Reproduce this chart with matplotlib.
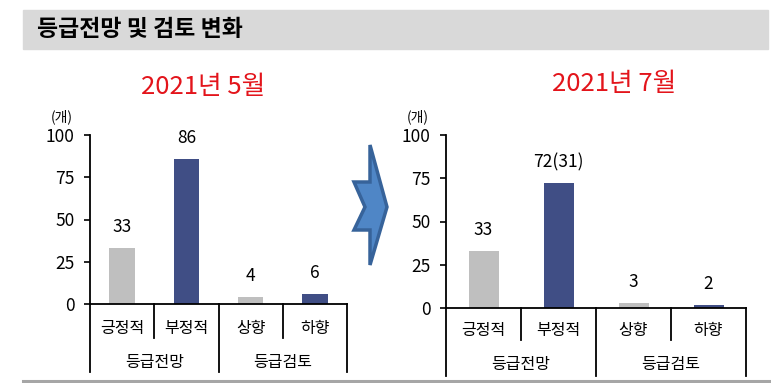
import matplotlib.pyplot as plt
import matplotlib.transforms as mtransforms
from matplotlib.patches import Rectangle, Polygon
from matplotlib.lines import Line2D

plt.rcParams['font.family'] = ['Noto Sans CJK KR', 'DejaVu Sans']

W, H = 771, 383

title = '등급전망 및 검토 변화'
periods = ['2021년 5월', '2021년 7월']
categories = ['긍정적', '부정적', '상향', '하향']
groups = ['등급전망', '등급검토']
values_may = [33, 86, 4, 6]
values_jul = [33, 72, 3, 2]
labels_may = ['33', '86', '4', '6']
labels_jul = ['33', '72(31)', '3', '2']
bar_colors = ['#BFBFBF', '#404E85', '#BFBFBF', '#404E85']
yticks = [0, 25, 50, 75, 100]


def fx(x):
    return x / W


def fy(y):
    return 1 - y / H


fig = plt.figure(figsize=(W / 100, H / 100), dpi=100)

# title bar
fig.patches.append(Rectangle((fx(23), fy(49)), fx(768) - fx(23), fy(10) - fy(49),
                             transform=fig.transFigure, color='#D9D9D9', zorder=0))
fig.text(fx(37), fy(30), title, fontsize=16.5, fontweight='bold', va='center', ha='left')

# bottom rule
fig.lines.append(Line2D([fx(23), fx(771)], [fy(380.5), fy(380.5)], transform=fig.transFigure,
                        color='#A6A6A6', lw=2.2))


def draw_panel(left, right, zero_y, top_y, vals, labs, period, title_x, title_y,
               lab_px, short_px, group_px, long_px):
    ax = fig.add_axes([fx(left), fy(zero_y), fx(right) - fx(left), fy(top_y) - fy(zero_y)])
    x = range(len(categories))
    ax.bar(x, vals, width=0.4, color=bar_colors)
    ax.set_xlim(-0.5, 3.5)
    ax.set_ylim(0, 100)
    ax.set_yticks(yticks)
    ax.set_xticks([])
    ax.tick_params(axis='y', direction='out', length=4, width=1.2, labelsize=12.5, pad=7)
    for s in ['top', 'right']:
        ax.spines[s].set_visible(False)
    for s in ['left', 'bottom']:
        ax.spines[s].set_linewidth(1.3)

    for xi, v, t in zip(x, vals, labs):
        ax.annotate(t, (xi, v), xytext=(0, 15), textcoords='offset points',
                    ha='center', va='center', fontsize=12.5)

    ah = zero_y - top_y
    tr = mtransforms.blended_transform_factory(ax.transData, ax.transAxes)
    for xs in [-0.5, 1.5, 3.5]:
        ax.plot([xs, xs], [0, -long_px / ah], transform=tr, color='black', lw=1.3, clip_on=False)
    for xs in [0.5, 2.5]:
        ax.plot([xs, xs], [0, -short_px / ah], transform=tr, color='black', lw=1.3, clip_on=False)
    for xi, c in zip(x, categories):
        ax.text(xi, -lab_px / ah, c, transform=tr, ha='center', va='center', fontsize=11.5)
    for gi, g in enumerate(groups):
        ax.text(0.5 + 2 * gi, -group_px / ah, g, transform=tr, ha='center', va='center', fontsize=11.5)

    fig.text(fx(title_x), fy(title_y), period, color='#E3141B', fontsize=18.5,
             ha='center', va='center')
    fig.text(fx(left - 28), fy(117), '(개)', fontsize=10, ha='center', va='center')
    return ax


draw_panel(90, 347, 304, 135, values_may, labels_may, periods[0], 203, 87,
           24, 34, 58, 68)
draw_panel(446, 746, 308, 135, values_jul, labels_jul, periods[1], 614, 84,
           23, 32, 57, 68)

# chevron arrow between panels
arrow_pts = [(370, 145), (387, 207), (370, 265), (370, 230), (354, 230),
             (365, 207), (354, 182), (370, 182)]
fig.patches.append(Polygon([(fx(a), fy(b)) for a, b in arrow_pts], closed=True,
                           transform=fig.transFigure, facecolor='#4F86C6',
                           edgecolor='#37639A', lw=2.5, joinstyle='miter'))

fig.savefig('out.png', dpi=100)
